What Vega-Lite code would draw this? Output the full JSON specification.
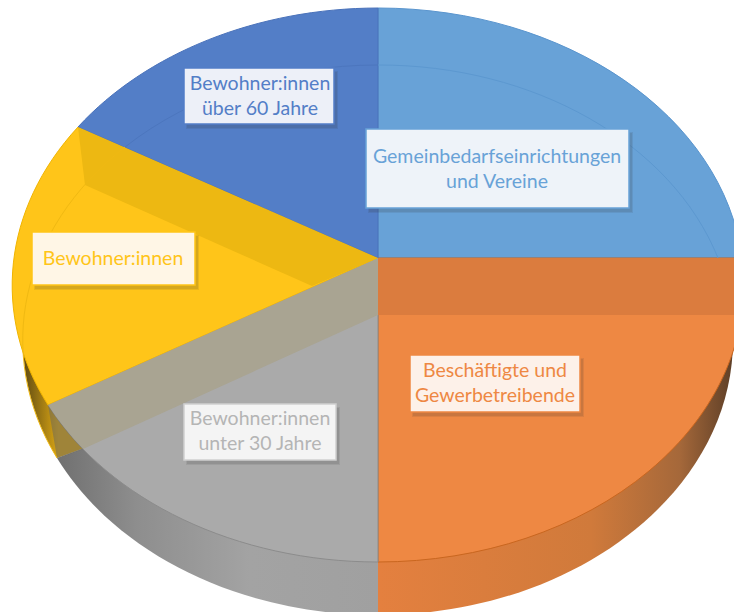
{
"$schema":"https://vega.github.io/schema/vega-lite/v6.json",
"width":734,"height":612,"autosize":"none","padding":0,"background":"white",
"config":{"view":{"stroke":null}},
"data":{"values":[
{"segment":"Gemeinbedarf","label":"Gemeinbedarfseinrichtungen\nund Vereine","share":25},
{"segment":"Beschaeftigte","label":"Beschäftigte und\nGewerbetreibende","share":25},
{"segment":"Unter30","label":"Bewohner:innen\nunter 30 Jahre","share":17},
{"segment":"Bewohner","label":"Bewohner:innen","share":17},
{"segment":"Ueber60","label":"Bewohner:innen\nüber 60 Jahre","share":16}
]},
"resolve":{"scale":{"shape":"independent","fill":"independent","stroke":"independent"}},
"layer":[
{"transform":[{"filter":"datum.segment==='Bewohner'"}],"mark":{"type":"point","filled":true,"opacity":1,"size":4,"strokeWidth":0,"shape":"M11,34 L-310,152 A355,275 0 0 1 -344,34 Z","fill":{"gradient":"linear","x1":0,"x2":1,"y1":0,"y2":0,"stops":[{"offset":0,"color":"#5f4a12"},{"offset":0.1,"color":"#d9a514"},{"offset":1,"color":"#d9a514"}]}},"encoding":{}},
{"transform":[{"filter":"datum.segment==='Unter30'"}],"mark":{"type":"point","filled":true,"opacity":1,"size":4,"strokeWidth":0,"shape":"M11,34 L11,309 A355,275 0 0 1 -310,152 Z","fill":{"gradient":"linear","x1":0,"x2":1,"y1":0,"y2":0,"stops":[{"offset":0,"color":"#707070"},{"offset":0.25,"color":"#8e8e8e"},{"offset":0.6,"color":"#a3a3a3"},{"offset":1,"color":"#a0a0a0"}]}},"encoding":{}},
{"transform":[{"filter":"datum.segment==='Beschaeftigte'"}],"mark":{"type":"point","filled":true,"opacity":1,"size":4,"strokeWidth":0,"shape":"M11,34 L366,34 A355,275 0 0 1 11,309 Z","fill":{"gradient":"linear","x1":0,"x2":1,"y1":0,"y2":0,"stops":[{"offset":0,"color":"#E4803F"},{"offset":0.6,"color":"#D07A3B"},{"offset":0.85,"color":"#A5683A"},{"offset":1,"color":"#5e3f27"}]}},"encoding":{}},
{"mark":{"type":"point","filled":true,"opacity":1,"size":4,"strokeWidth":1},
 "encoding":{
  "shape":{"field":"segment","type":"nominal","legend":null,"scale":{"domain":["Gemeinbedarf","Beschaeftigte","Unter30","Bewohner","Ueber60"],"range":[
   "M11,-48 L11,-298 A366,277 0 0 1 375,-48 Z",
   "M11,-48 L375,-48 A366,277 0 0 1 11,256 Z",
   "M11,-48 L11,256 A366,277 0 0 1 -319,99 Z",
   "M11,-48 L-319,99 A366,277 0 0 1 -289,-179 Z",
   "M11,-48 L-289,-179 A366,277 0 0 1 11,-298 Z"]}},
  "fill":{"field":"segment","type":"nominal","legend":null,"scale":{"domain":["Gemeinbedarf","Beschaeftigte","Unter30","Bewohner","Ueber60"],"range":["#68A2D7","#EE8843","#AAAAAA","#FFC519","#537EC7"]}},
  "stroke":{"field":"segment","type":"nominal","legend":null,"scale":{"domain":["Gemeinbedarf","Beschaeftigte","Unter30","Bewohner","Ueber60"],"range":["#5A95CE","#C9661F","#8C8C8C","#F0B400","#4A72BA"]}},
  "tooltip":{"field":"share","type":"quantitative"}
 }},
{"transform":[{"filter":"datum.segment==='Beschaeftigte'"}],"mark":{"type":"point","filled":true,"opacity":1,"size":4,"strokeWidth":0,"fill":"#DB7C3E","shape":"M11,-48 L380,-48 L380,9 L11,9 Z"},"encoding":{}},
{"transform":[{"filter":"datum.segment==='Unter30'"}],"mark":{"type":"point","filled":true,"opacity":1,"size":4,"strokeWidth":0,"fill":"#A9A492","shape":"M11,-48 L-319,99 A366,277 0 0 0 -284,143 L11,9 Z"},"encoding":{}},
{"transform":[{"filter":"datum.segment==='Unter30'"}],"mark":{"type":"point","filled":true,"opacity":0.55,"size":4,"strokeWidth":0,"fill":"#6f6a58","shape":"M-319,99 L-310,152 A355,275 0 0 0 -284,143 A366,277 0 0 1 -319,99 Z"},"encoding":{}},
{"transform":[{"filter":"datum.segment==='Bewohner'"}],"mark":{"type":"point","filled":true,"opacity":1,"size":4,"strokeWidth":0,"fill":"#EDB812","shape":"M11,-48 L-289,-179 L-282,-121 L-55,-20 Z"},"encoding":{}},
{"transform":[{"filter":"datum.segment==='Gemeinbedarf'"}],"mark":{"type":"point","filled":false,"opacity":1,"size":4,"strokeWidth":1,"stroke":"#5C98D0","shape":"M11,-241 A355,275 0 0 1 351,-48"},"encoding":{}},
{"transform":[{"filter":"datum.segment==='Ueber60'"}],"mark":{"type":"point","filled":false,"opacity":1,"size":4,"strokeWidth":1,"stroke":"#4C76BE","shape":"M11,-241 A355,275 0 0 0 -242,-159"},"encoding":{}},
{"transform":[{"filter":"datum.segment==='Bewohner'"}],"mark":{"type":"point","filled":false,"opacity":1,"size":4,"strokeWidth":1,"stroke":"#F0B912","shape":"M-242,-159 A355,275 0 0 0 -310,152"},"encoding":{}},
{"mark":{"type":"point","filled":true,"opacity":0.2,"size":4,"strokeWidth":2,"stroke":"#333333","strokeOpacity":0.5,"fill":"#333333","xOffset":3,"yOffset":4},
 "encoding":{"shape":{"field":"segment","type":"nominal","legend":null,"scale":{"domain":["Gemeinbedarf","Beschaeftigte","Unter30","Bewohner","Ueber60"],"range":[
   "M-1,-177 L262,-177 L262,-98 L-1,-98 Z",
   "M43,49 L213,49 L213,106 L43,106 Z",
   "M-183,98 L-31,98 L-31,154 L-183,154 Z",
   "M-335,-74 L-172,-74 L-172,-21 L-335,-21 Z",
   "M-183,-238 L-33,-238 L-33,-182 L-183,-182 Z"]}}}},
{"mark":{"type":"point","filled":true,"opacity":1,"size":4,"strokeWidth":1.5},
 "encoding":{"shape":{"field":"segment","type":"nominal","legend":null,"scale":{"domain":["Gemeinbedarf","Beschaeftigte","Unter30","Bewohner","Ueber60"],"range":[
   "M-1,-177 L262,-177 L262,-98 L-1,-98 Z",
   "M43,49 L213,49 L213,106 L43,106 Z",
   "M-183,98 L-31,98 L-31,154 L-183,154 Z",
   "M-335,-74 L-172,-74 L-172,-21 L-335,-21 Z",
   "M-183,-238 L-33,-238 L-33,-182 L-183,-182 Z"]}},
  "fill":{"field":"segment","type":"nominal","legend":null,"scale":{"domain":["Gemeinbedarf","Beschaeftigte","Unter30","Bewohner","Ueber60"],"range":["#EEF3F9","#FDF1E9","#F4F4F4","#FFF6E6","#EDF0F8"]}},
  "stroke":{"field":"segment","type":"nominal","legend":null,"scale":{"domain":["Gemeinbedarf","Beschaeftigte","Unter30","Bewohner","Ueber60"],"range":["#68A2D7","#EE8843","#D0D0D0","#FFC519","#537EC7"]}}}},
{"transform":[{"filter":"datum.segment==='Gemeinbedarf'"}],"mark":{"type":"text","font":"Lato","fontSize":19.5,"lineBreak":"\n","lineHeight":25,"align":"center","baseline":"middle","dx":130,"dy":-149,"fill":"#68A2D7"},"encoding":{"text":{"field":"label"}}},
{"transform":[{"filter":"datum.segment==='Beschaeftigte'"}],"mark":{"type":"text","font":"Lato","fontSize":19.5,"lineBreak":"\n","lineHeight":25,"align":"center","baseline":"middle","dx":128,"dy":65,"fill":"#EE8843"},"encoding":{"text":{"field":"label"}}},
{"transform":[{"filter":"datum.segment==='Unter30'"}],"mark":{"type":"text","font":"Lato","fontSize":19.5,"lineBreak":"\n","lineHeight":25,"align":"center","baseline":"middle","dx":-107,"dy":113,"fill":"#B5B5B5"},"encoding":{"text":{"field":"label"}}},
{"transform":[{"filter":"datum.segment==='Bewohner'"}],"mark":{"type":"text","font":"Lato","fontSize":19.5,"lineBreak":"\n","lineHeight":25,"align":"center","baseline":"middle","dx":-254,"dy":-47,"fill":"#FFC519"},"encoding":{"text":{"field":"label"}}},
{"transform":[{"filter":"datum.segment==='Ueber60'"}],"mark":{"type":"text","font":"Lato","fontSize":19.5,"lineBreak":"\n","lineHeight":25,"align":"center","baseline":"middle","dx":-107,"dy":-222,"fill":"#537EC7"},"encoding":{"text":{"field":"label"}}}
]
}
